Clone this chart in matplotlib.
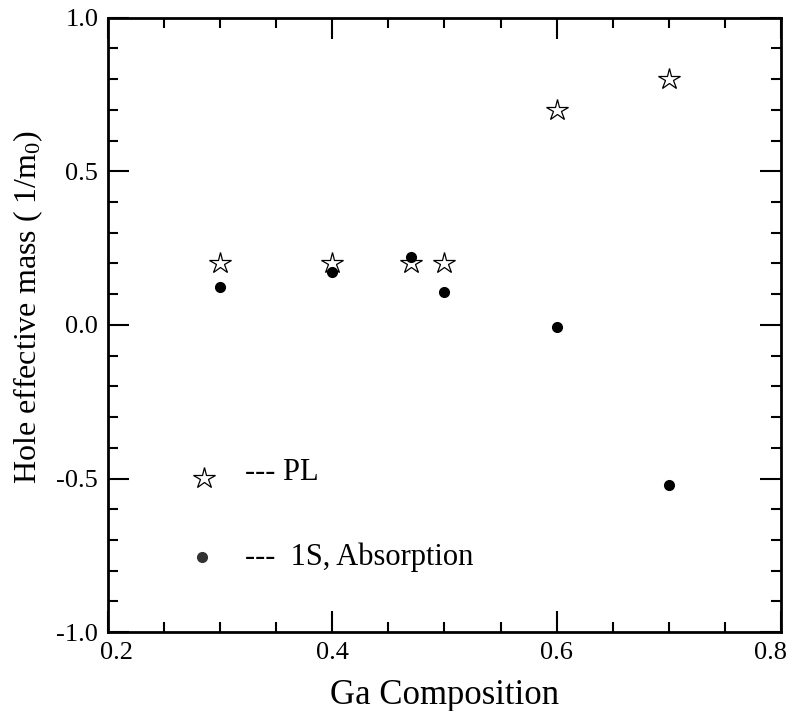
import numpy as np
import matplotlib
matplotlib.use('Agg')
import matplotlib.pyplot as plt
from matplotlib.ticker import MultipleLocator
from matplotlib.transforms import ScaledTranslation

plt.rcParams['font.family'] = ['Liberation Serif', 'DejaVu Serif']
plt.rcParams['mathtext.fontset'] = 'custom'
plt.rcParams['mathtext.rm'] = 'Liberation Serif'
plt.rcParams['mathtext.it'] = 'Liberation Serif:italic'

# Данные
ga_pl = [0.30, 0.40, 0.47, 0.50, 0.60, 0.70]
mass_pl = [0.20, 0.20, 0.20, 0.20, 0.70, 0.80]

ga_abs = [0.30, 0.40, 0.47, 0.50, 0.60, 0.70]
mass_abs = [0.124, 0.172, 0.221, 0.107, -0.007, -0.521]

# Легенда внутри графика
legend_x = [0.286, 0.284]
legend_y = [-0.498, -0.757]
legend_text = ['--- PL', '---  1S, Absorption']
legend_text_y = [-0.505, -0.782]

fig = plt.figure(figsize=(7.88, 7.11), dpi=100)
ax = fig.add_axes([0.137, 0.111, 0.854, 0.864])

ax.plot(ga_pl, mass_pl, linestyle='none', marker='*', markersize=16,
        markerfacecolor='white', markeredgecolor='black', markeredgewidth=0.9)
ax.plot(ga_abs, mass_abs, linestyle='none', marker='o', markersize=7,
        color='black')

ax.plot(legend_x[0], legend_y[0], linestyle='none', marker='*', markersize=16,
        markerfacecolor='white', markeredgecolor='black', markeredgewidth=0.9)
ax.plot(legend_x[1], legend_y[1], linestyle='none', marker='o', markersize=7,
        color='#333333')
for ty, txt in zip(legend_text_y, legend_text):
    ax.text(0.322, ty, txt, fontsize=22, va='baseline', ha='left')

ax.set_xlim(0.2, 0.8)
ax.set_ylim(-1.0, 1.0)
ax.xaxis.set_major_locator(MultipleLocator(0.2))
ax.xaxis.set_minor_locator(MultipleLocator(0.05))
ax.yaxis.set_major_locator(MultipleLocator(0.5))
ax.yaxis.set_minor_locator(MultipleLocator(0.1))
ax.set_xticks([0.2, 0.4, 0.6, 0.8], ['0.2', '0.4', '0.6', '0.8'])
ax.set_yticks([-1.0, -0.5, 0.0, 0.5, 1.0], ['-1.0', '-0.5', '0.0', '0.5', '1.0'])

ax.tick_params(which='both', direction='in', top=True, right=True, labelsize=19)
ax.tick_params(which='major', length=15, width=1.5, pad=7)
ax.tick_params(which='minor', length=7, width=1.5)
for s in ax.spines.values():
    s.set_linewidth(2)

# крайние подписи сдвинуты внутрь, как в оригинале
xl = ax.get_xticklabels()
xl[0].set_transform(xl[0].get_transform() + ScaledTranslation(9 / 100, 0, fig.dpi_scale_trans))
xl[-1].set_transform(xl[-1].get_transform() + ScaledTranslation(-10 / 100, 0, fig.dpi_scale_trans))

ax.set_xlabel('Ga Composition', fontsize=25, labelpad=11)
ax.set_ylabel(r'Hole effective mass ( 1/m$_0$)', fontsize=23)
ax.yaxis.set_label_coords(-0.094, 0.53)

fig.savefig('out.png', dpi=100)
